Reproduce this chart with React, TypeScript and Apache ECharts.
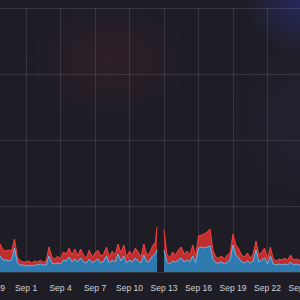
import React, { useEffect, useRef } from "react";
import * as echarts from "echarts";

// hours since Aug 29 00:00
const hours = [
  0, 6, 12, 18, 24, 30, 36, 42, 48, 54, 60, 66, 72, 78, 84, 90, 96, 102, 108, 114,
  120, 126, 132, 138, 144, 150, 156, 162, 168, 174, 180, 186, 192, 198, 204, 210,
  216, 222, 228, 234, 240, 246, 252, 258, 264, 270, 276, 282, 288, 294, 300, 306,
  312, 318, 324, 330, 336, 342, 345.5, 352, 360, 366, 372, 378, 384, 390, 396, 402,
  408, 414, 420, 426, 432, 438, 444, 450, 456, 462, 468, 474, 480, 486, 492, 498,
  504, 510, 516, 522, 528, 534, 540, 546, 552, 558, 564, 570, 576, 582, 588, 594,
  600, 606, 612, 618, 624, 630, 636, 642, 648,
];

const blueValues = [
  12, 13, 15, 16, 12, 12, 11, 12, 24, 9, 7, 7, 6, 7, 6, 7, 7, 8, 7, 7,
  16, 9, 8, 9, 8, 12, 11, 15, 10, 13, 10, 14, 10, 9, 13, 9,
  11, 13, 9, 11, 16, 9, 12, 10, 18, 11, 16, 9, 12, 10, 14, 11,
  9, 17, 10, 11, 16, 18, 22, null, 22, 10, 8, 11, 10, 12, 14, 10,
  12, 10, 16, 9, 24, 25, 24, 25, 26, 13, 9, 9, 10, 8, 10, 12,
  27, 17, 14, 10, 9, 11, 9, 11, 22, 10, 12, 14, 8, 16, 8, 7,
  8, 7, 8, 7, 10, 7, 8, 7, 7,
];

const redValues = [
  8, 9, 11, 12, 10, 9, 11, 9, 9, 6, 4, 3, 4, 4, 3, 4, 3, 4, 3, 4,
  9, 6, 5, 7, 5, 8, 7, 9, 7, 10, 6, 9, 7, 5, 9, 6,
  8, 9, 7, 7, 9, 6, 9, 7, 10, 8, 11, 6, 9, 7, 10, 9,
  6, 11, 7, 8, 10, 12, 23, null, 20, 8, 6, 9, 7, 10, 11, 8,
  9, 7, 11, 7, 12, 12, 14, 15, 17, 9, 6, 5, 6, 5, 7, 7,
  11, 10, 9, 7, 6, 8, 5, 7, 9, 7, 8, 10, 5, 9, 5, 4,
  5, 5, 6, 5, 7, 5, 5, 5, 4,
];

const months = ["Jan", "Feb", "Mar", "Apr", "May", "Jun", "Jul", "Aug", "Sep", "Oct", "Nov", "Dec"];
const startDate = Date.UTC(2024, 7, 29);

function labelFor(h: number): string {
  const d = new Date(startDate + h * 3600000);
  return months[d.getUTCMonth()] + " " + d.getUTCDate();
}

export default function App() {
  const ref = useRef<HTMLDivElement>(null);
  useEffect(() => {
    if (!ref.current) return;
    const chart = echarts.init(ref.current, undefined, { renderer: "svg" });
    const blueData = hours.map((h, i) => [h, blueValues[i]]);
    // red is stacked on top of blue: its top edge is blue + red
    const redTopData = hours.map((h, i) => {
      const b = blueValues[i];
      const r = redValues[i];
      return [h, b == null || r == null ? null : b + r];
    });
    chart.setOption({
      animation: false,
      backgroundColor: "transparent",
      grid: {
        left: -8.5,
        right: -2,
        top: 8,
        bottom: 28,
        containLabel: false,
        outerBoundsMode: "none",
      },
      xAxis: {
        type: "value",
        min: 0,
        max: 648,
        interval: 72,
        axisLine: { show: false },
        axisTick: { show: false },
        axisLabel: {
          show: true,
          showMinLabel: true,
          showMaxLabel: true,
          formatter: (v: number) => labelFor(v),
          color: "#d2d2d7",
          fontSize: 8.5,
          fontFamily: "Liberation Sans, Arial, sans-serif",
          margin: 11,
        },
        splitLine: { show: true, lineStyle: { color: "rgba(255,255,255,0.11)", width: 1 } },
      },
      yAxis: {
        type: "value",
        min: 0,
        max: 264,
        interval: 66,
        axisLine: { show: false },
        axisTick: { show: false },
        axisLabel: { show: false },
        splitLine: { show: true, lineStyle: { color: "rgba(255,255,255,0.11)", width: 1 } },
      },
      series: [
        {
          name: "red",
          type: "line",
          data: redTopData,
          symbol: "none",
          connectNulls: false,
          z: 2,
          lineStyle: { color: "#f0443e", width: 1 },
          areaStyle: { color: "#c02f2f", opacity: 1 },
        },
        {
          name: "blue",
          type: "line",
          data: blueData,
          symbol: "none",
          connectNulls: false,
          z: 3,
          lineStyle: { color: "#6bb6e6", width: 1 },
          areaStyle: { color: "#2e79ae", opacity: 1 },
        },
      ],
    });
    return () => chart.dispose();
  }, []);

  return (
    <div
      style={{
        position: "fixed",
        left: 0,
        top: 0,
        width: 300,
        height: 300,
        overflow: "hidden",
        background:
          "radial-gradient(circle at 300px 0px, rgba(45,55,150,0.5) 0px, rgba(45,55,150,0) 55px)," +
          "radial-gradient(ellipse 80px 60px at 110px 60px, rgba(110,35,55,0.2) 0%, rgba(110,35,55,0) 100%)," +
          "radial-gradient(ellipse 70px 90px at 300px 120px, rgba(70,55,120,0.14) 0%, rgba(70,55,120,0) 100%)," +
          "#1e1d25",
      }}
    >
      <div ref={ref} style={{ width: 300, height: 300 }} />
    </div>
  );
}
